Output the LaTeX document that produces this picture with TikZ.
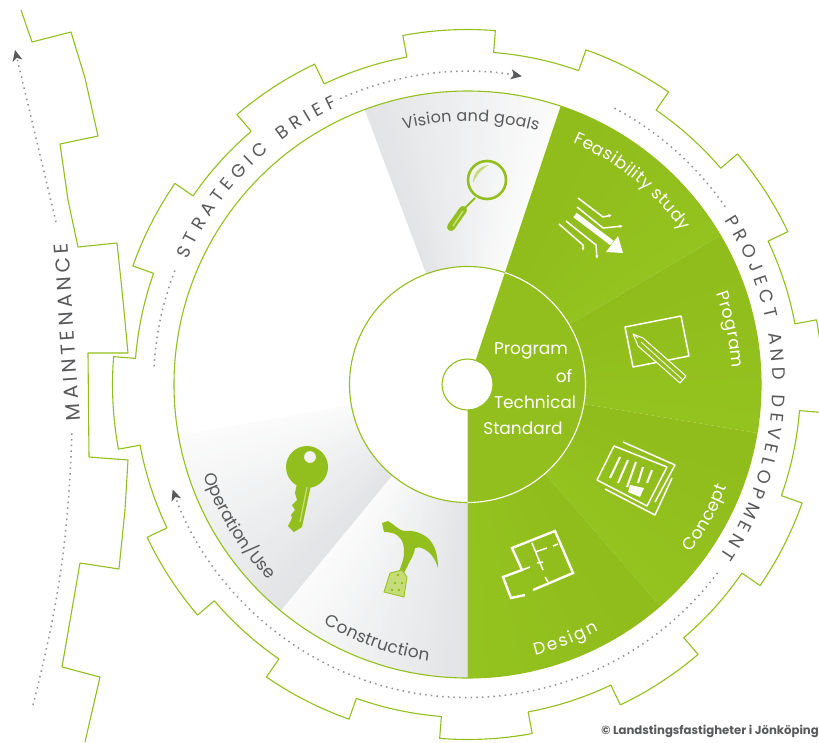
\documentclass[tikz,border=0pt]{standalone}
\usepackage{fontspec}
\setmainfont{Poppins}
\usetikzlibrary{arrows.meta,decorations.text}
\definecolor{leaf}{HTML}{92BF1D}
\definecolor{leafdark}{HTML}{90BC1C}
\definecolor{leaflight}{HTML}{94C21E}
\definecolor{leafpale}{HTML}{C5DC78}
\definecolor{inkgray}{HTML}{58595B}
\definecolor{dotgray}{HTML}{8F9092}
\definecolor{fangray}{HTML}{E2E4E6}
\definecolor{fanwhite}{HTML}{FBFBFB}
\newcommand{\px}[1]{\fontsize{#1}{#1}\selectfont}
% sector of the ring, colour runs from the first angle to the second
\newcommand{\ringsector}[4]{
  \foreach \k in {0,...,29}{
    \pgfmathsetmacro\aa{#1+(#2-#1)*\k/30}
    \pgfmathsetmacro\bb{#1+(#2-#1)*min(\k+1.4,30)/30}
    \pgfmathsetmacro\mm{100*\k/29}
    \fill[#4!\mm!#3] (\aa:118) -- (\aa:293.5) arc[start angle=\aa,end angle=\bb,radius=293.5] -- (\bb:118) arc[start angle=\bb,end angle=\aa,radius=118] -- cycle;
  }
}
\newcommand{\ringtext}[5]{
  \path[decorate,decoration={text along path,text align={fit to path},text={|#4|#5}}]
    (#1:#3) arc[start angle=#1,end angle=#2,radius=#3];
}
\begin{document}
\begin{tikzpicture}[x=1pt,y=-1pt,
    gearline/.style = {draw=leaf, line width=1.1pt, line join=round},
    dotline/.style = {draw=dotgray, line width=1.5pt, dash pattern=on 1.5pt off 4.2pt},
    dottip/.style = {-{Stealth[length=11pt,width=10pt,inset=3pt,color=inkgray]}},
    whiteline/.style = {draw=white, line width=1.5pt, line join=round},
    whitewall/.style = {draw=white, line width=2.4pt, line join=miter},
    whitelabel/.style = {text=white, inner sep=0pt},
    leafline/.style = {draw=leaf, line width=2.6pt}
    ]
    \clip (0,0) rectangle (819,742);

    % outer gear
    \draw[gearline] (21,10) -- (32,42) -- (71,32) -- (85,78) -- (98,136) -- (60,144) -- (68,200) -- (78,247) -- (117,243)
      -- (122,290) -- (128,353) -- (88,353) -- (89,457) -- (128,460) -- (125,510) -- (119,569) -- (80,563) -- (62,667)
      -- (100,677) -- (85,742);

    \begin{scope}[shift={(467.5,384.5)},x=1pt,y=1pt]
    % inner gear
    \draw[gearline] \foreach \k [evaluate=\k as \s using {100.5-30*\k},evaluate=\k as \e using {85.5-30*\k},evaluate=\k as \n using {70.5-30*\k}] in {0,...,11}{
      (\s:333) -- (\s:355) arc[start angle=\s,end angle=\e,radius=355] -- (\e:333) arc[start angle=\e,end angle=\n,radius=333]
    };

    % sectors
    \ringsector{110.5}{71.5}{fangray}{fanwhite}
    \ringsector{190}{230.5}{fanwhite}{fangray}
    \ringsector{230.5}{270}{fanwhite}{fangray}
    \ringsector{71.5}{30.5}{leafdark}{leaflight}
    \ringsector{30.5}{-9.5}{leafdark}{leaflight}
    \ringsector{-9.5}{-49}{leafdark}{leaflight}
    \ringsector{-49}{-90}{leafdark}{leaflight}
    \fill[leaf] (0,0) -- (71.5:118) arc[start angle=71.5,end angle=-90,radius=118] -- cycle;
    \draw[gearline] (0,0) circle[radius=293.5];
    \draw[gearline] (71.5:118) arc[start angle=71.5,end angle=270,radius=118];
    \draw[white,line width=1.1pt] (71.5:118) arc[start angle=71.5,end angle=-90,radius=118];
    \draw[gearline,fill=white] (0,0) circle[radius=25.5];

    % dotted runs
    \draw[dotline] (176.7:314) arc[start angle=176.7,end angle=158,radius=314];
    \draw[dotline,dottip] (114:313) arc[start angle=114,end angle=80,radius=313];
    \draw[dotline] (62:313) arc[start angle=62,end angle=34.5,radius=313];
    \draw[dotline,dottip] (-37:313) arc[start angle=-37,end angle=-160.4,radius=313];

    % ring labels
    \ringtext{156}{115}{307}{\color{inkgray}\px{18}}{STRATEGIC BRIEF}
    \ringtext{32.5}{-34}{305}{\color{inkgray}\px{18}}{PROJECT AND DEVELOPMENT}
    \ringtext{104}{74.5}{263}{\color{inkgray}\px{16}}{Vision and goals}
    \ringtext{66.5}{35.5}{264}{\color{white}\px{17}}{Feasibility study}
    \ringtext{20}{3.5}{265}{\color{white}\px{17}}{Program}
    \ringtext{-37}{-21.5}{279}{\color{white}\px{17}}{Concept}
    \ringtext{-76}{-62}{279}{\color{white}\px{17}}{Design}
    \ringtext{-121}{-98}{279}{\color{inkgray}\px{17}}{Construction}
    \ringtext{-161}{-136}{279}{\color{inkgray}\px{17}}{Operation/Use}
    \end{scope}

    % maintenance
    \draw[dotline] (33,705) to[bend right=6] (72,433);
    \draw[dotline,dottip] (56,222) to (15,50);
    \path[decorate,decoration={text along path,text align={fit to path},text={|\color{inkgray}\px{20}|MAINTENANCE}}] (80,420) -- (68,243);

    % centre text
    \node[whitelabel,font=\px{17}] (program) at (531,351) {Program};
    \node[whitelabel,font=\px{17}] (of) at (564,376) {of};
    \node[whitelabel,font=\px{17}] (technical) at (535,402) {Technical};
    \node[whitelabel,font=\px{17}] (standard) at (523,428) {Standard};

    % magnifier
    \draw[leafline] (487,180) circle[radius=19pt];
    \fill[leafpale] (473,183) .. controls (473,172) and (480,166) .. (489,165) .. controls (482,169) and (477,174) .. cycle;
    \draw[leaf,line width=2pt] (475,198) -- (465,208);
    \draw[leaf,line width=8pt,line cap=round] (463,210) -- (451,227);
    \draw[leafpale,line width=1.6pt] (463,211) -- (453,226);

    % arrows
    \draw[white,line width=5.5pt] (575,215) -- (612,243);
    \fill[white] (618,236) -- (623,253) -- (606,252) -- cycle;
    \draw[whiteline,-{Latex[length=3.5pt,width=3.5pt]}] (578,198) -- (603,217) -- (612,215);
    \draw[whiteline,-{Latex[length=3.5pt,width=3.5pt]}] (577,207) -- (603,228) -- (623,226);
    \draw[whiteline,-{Latex[length=3.5pt,width=3.5pt]}] (559,224) -- (583,245) -- (583,251);
    \draw[whiteline,-{Latex[length=3.5pt,width=3.5pt]}] (566,221) -- (596,245) -- (597,259);

    % pad and pencil
    \draw[whiteline] (633,367) -- (625,327) -- (681,316) -- (689,356) -- cycle;
    \fill[leaf] (633,334) -- (643,338) -- (686,376) -- (680,383) -- (638,346) -- cycle;
    \draw[whiteline,line width=1pt] (633,334) -- (643,338) -- (686,376) -- (680,383) -- (638,346) -- cycle;
    \draw[white,line width=.8pt] (641,342) -- (683,380) (638,338) -- (633,334);

    % papers
    \draw[whiteline] (614,446) -- (667,467) -- (647,506) -- (597,480) -- cycle;
    \draw[whiteline] (623,442) -- (675,465) -- (655,502);
    \draw[whiteline] (672,478) -- (655,515) -- (605,489);
    \draw[white,line width=2pt] (620,457) -- (610,478) (628,460) -- (618,483) (636,462) -- (627,487) (643,467) -- (638,483) (652,470) -- (647,483);
    \fill[white] (630,485) -- (644,488) -- (640,497) -- (628,492) -- cycle;

    % floor plan
    \draw[whitewall] (525,595) -- (511,598) -- (503,577) -- (522,570) -- (512,548) -- (555,531) -- (573,573) -- (533,590);
    \draw[white,line width=1.5pt] (532,543) -- (543,570) (535,552) -- (547,548) (553,546) -- (558,544) (522,570) -- (530,567) (537,563) -- (543,562) (545,577) -- (548,582);

    % key
    \fill[leaf,even odd rule] (307,467) circle[radius=21pt] (310,457) circle[radius=6pt];
    \fill[leaf] (297,483) -- (311,485) -- (302,527) -- (294,532) -- (288,526) -- (292,518) -- (291,515) -- (295,510) -- (292,505) -- (297,500) -- (295,493) -- cycle;
    \draw[leafpale,line width=1.2pt] (307,487) -- (300,522);

    % hammer
    \fill[leaf] (382,523) -- (388,521) .. controls (394,524) and (398,530) .. (404,531) .. controls (412,530) and (420,532) .. (428,538)
      .. controls (434,544) and (438,553) .. (438,568) .. controls (435,558) and (430,552) .. (424,549) .. controls (420,547) and (417,547) .. (415,548)
      .. controls (414,556) and (409,562) .. (407,567) -- (402,577) -- (399,572) -- (403,560) .. controls (405,552) and (404,542) .. (400,538)
      .. controls (397,534) and (392,532) .. (384,532) -- cycle;
    \fill[leafpale,draw=leaf,line width=.8pt] (390,573) -- (402,570) -- (407,577) -- (404,597) -- (384,592) -- cycle;
    \foreach \dx/\dy in {398/575,395/583,402/583,392/590,399/590}
      \fill[leaf] (\dx,\dy) circle[radius=1.4pt];

    \node[anchor=east,inner sep=0pt,text=inkgray,font=\px{11.7}\bfseries] (rights) at (819,731) {© Landstingsfastigheter i Jönköping};
\end{tikzpicture}
\end{document}
